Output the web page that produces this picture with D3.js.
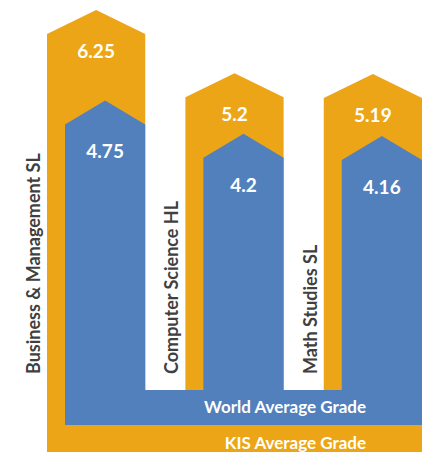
<!DOCTYPE html>
<html>
<head>
<meta charset="utf-8">
<script src="https://cdn.jsdelivr.net/npm/d3@7"></script>
<style>
  body { margin: 0; background: #fff; }
  svg { display: block; font-family: Lato, "Open Sans", sans-serif; }
</style>
</head>
<body>
<script>
// data
const subjects = ["Business & Management SL", "Computer Science HL", "Math Studies SL"];
const kisGrades = [6.25, 5.2, 5.19];
const worldGrades = [4.75, 4.2, 4.16];
const seriesNames = ["KIS Average Grade", "World Average Grade"];

const width = 434, height = 452;
const orange = "#EDA518", blue = "#5180BC";

const svg = d3.select("body").append("svg")
  .attr("width", width)
  .attr("height", height);

// scales
const x = d3.scaleBand()
  .domain(subjects)
  .range([47, 422])
  .paddingInner(0.29)
  .paddingOuter(0);

const y = d3.scaleLinear()
  .domain([0, 6.25])
  .range([411, 34]);

const tip = 24;      // arrow head height
const inset = 18;    // blue bar offset from orange left edge
const kisBase = 425; // top of the KIS band
const worldBase = 390; // top of the World band

// arrow shaped bar
function arrow(x0, x1, top, bottom) {
  const xc = (x0 + x1) / 2;
  return `M${x0},${bottom}L${x0},${top}L${xc},${top - tip}L${x1},${top}L${x1},${bottom}Z`;
}

const data = subjects.map((s, i) => ({ s, kis: kisGrades[i], world: worldGrades[i] }));

// KIS (orange) bars
svg.selectAll("path.kis")
  .data(data)
  .enter()
  .append("path")
  .attr("class", "kis")
  .attr("fill", orange)
  .attr("d", (d) => arrow(x(d.s), x(d.s) + x.bandwidth(), y(d.kis), height + 10));

svg.append("rect")
  .attr("x", x.range()[0])
  .attr("y", kisBase)
  .attr("width", x.range()[1] - x.range()[0])
  .attr("height", height - kisBase + 10)
  .attr("fill", orange);

// World (blue) bars
svg.selectAll("path.world")
  .data(data)
  .enter()
  .append("path")
  .attr("class", "world")
  .attr("fill", blue)
  .attr("d", (d) => arrow(x(d.s) + inset, x(d.s) + x.bandwidth(), y(d.world), kisBase));

svg.append("rect")
  .attr("x", x.range()[0] + inset)
  .attr("y", worldBase)
  .attr("width", x.range()[1] - x.range()[0] - inset)
  .attr("height", kisBase - worldBase)
  .attr("fill", blue);

// value labels
svg.selectAll("text.kis-val")
  .data(data)
  .enter()
  .append("text")
  .attr("class", "kis-val")
  .attr("x", (d) => x(d.s) + x.bandwidth() / 2)
  .attr("y", (d) => y(d.kis) + 24)
  .attr("text-anchor", "middle")
  .attr("fill", "#fff")
  .attr("font-size", 19)
  .attr("font-weight", "bold")
  .text((d) => d.kis);

svg.selectAll("text.world-val")
  .data(data)
  .enter()
  .append("text")
  .attr("class", "world-val")
  .attr("x", (d) => x(d.s) + (x.bandwidth() + inset) / 2)
  .attr("y", (d) => y(d.world) + 34)
  .attr("text-anchor", "middle")
  .attr("fill", "#fff")
  .attr("font-size", 19)
  .attr("font-weight", "bold")
  .text((d) => d.world);

// subject labels, rotated beside each bar
svg.selectAll("text.subject")
  .data(data)
  .enter()
  .append("text")
  .attr("class", "subject")
  .attr("transform", (d) => `translate(${x(d.s) - 7},374) rotate(-90)`)
  .attr("text-anchor", "start")
  .attr("fill", "#404040")
  .attr("font-size", 18)
  .attr("font-weight", "bold")
  .text((d) => d.s);

// series labels in the bands
svg.append("text")
  .attr("x", 366)
  .attr("y", 413)
  .attr("text-anchor", "end")
  .attr("fill", "#fff")
  .attr("font-size", 17)
  .attr("font-weight", "bold")
  .text(seriesNames[1]);

svg.append("text")
  .attr("x", 366)
  .attr("y", 449)
  .attr("text-anchor", "end")
  .attr("fill", "#fff")
  .attr("font-size", 17)
  .attr("font-weight", "bold")
  .text(seriesNames[0]);
</script>
</body>
</html>
